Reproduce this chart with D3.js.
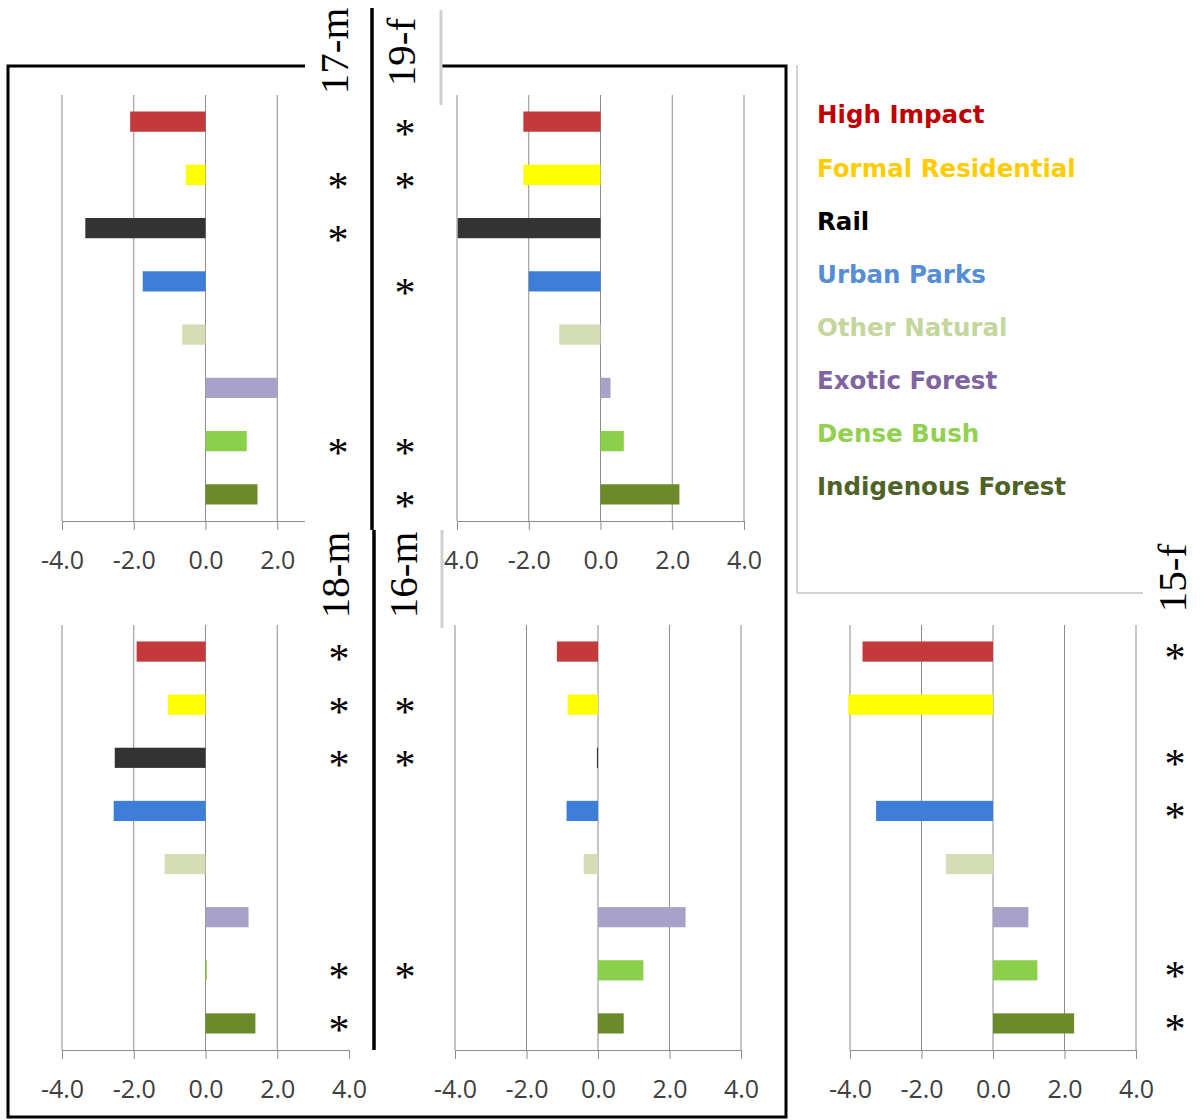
<!DOCTYPE html>
<html><head><meta charset="utf-8">
<script src="https://cdn.jsdelivr.net/npm/d3@7"></script>
<style>body{margin:0;background:#fff} svg{display:block}</style>
</head><body>
<svg id="chart" width="1203" height="1120"></svg>
<script>
// ---- data ----
const categories = ["High Impact","Formal Residential","Rail","Urban Parks","Other Natural","Exotic Forest","Dense Bush","Indigenous Forest"];
const legendColors = ["#c00000","#ffcc00","#000000","#558ed5","#c3d69b","#8064a2","#92d050","#4f6228"];
const barColors = ["#c43a3a","#ffff00","#333333","#3d7fd8","#d5ddb6","#a8a2c8","#8bd04a","#6b8b2a"];
const groupNames = ["17-m","19-f","18-m","16-m","15-f"];
const v17m = [-2.10, -0.55, -3.35, -1.75, -0.65, 2.00, 1.15, 1.45];
const v19f = [-2.15, -2.15, -3.98, -2.00, -1.15, 0.28, 0.65, 2.20];
const v18m = [-1.92, -1.05, -2.53, -2.56, -1.14, 1.20, 0.04, 1.39];
const v16m = [-1.15, -0.85, -0.03, -0.88, -0.40, 2.45, 1.27, 0.72];
const v15f = [-3.65, -4.05, 0.00, -3.27, -1.32, 0.99, 1.24, 2.27];
const sig17m = [0,1,1,0,0,0,1,0];
const sig19f = [1,1,0,1,0,0,1,1];
const sig18m = [1,1,1,0,0,0,1,1];
const sig16m = [0,1,1,0,0,0,1,0];
const sig15f = [1,0,1,1,0,0,1,1];
const tickValues = [-4,-2,0,2,4];
const tickLabels = ["-4.0","-2.0","0.0","2.0","4.0"];

// ---- drawing ----
const svg = d3.select("#chart");
svg.append("rect").attr("width",1203).attr("height",1120).attr("fill","#fff");

const panels = [
  {values:v17m, xr:[62,349],  yr:[95,521]},
  {values:v19f, xr:[457,744], yr:[95,521]},
  {values:v18m, xr:[62,349],  yr:[625,1050]},
  {values:v16m, xr:[455,741], yr:[625,1050]},
  {values:v15f, xr:[850,1136],yr:[625,1050]}
];
const bandScales = [];
panels.forEach(p => {
  const x = d3.scaleLinear().domain([-4,4]).range(p.xr);
  const y = d3.scaleBand().domain(categories).range(p.yr).paddingInner(0.62).paddingOuter(0.31);
  bandScales.push(y);
  const g = svg.append("g");
  g.selectAll("line.grid").data(tickValues).join("line")
    .attr("x1", d => x(d)).attr("x2", d => x(d))
    .attr("y1", p.yr[0]).attr("y2", p.yr[1])
    .attr("stroke", "#8c8c8c").attr("stroke-width", 1);
  const ax = g.append("g").attr("transform", `translate(0,${p.yr[1]})`)
    .call(d3.axisBottom(x).tickValues(tickValues)
      .tickFormat(d => tickLabels[tickValues.indexOf(d)])
      .tickSizeInner(9).tickSizeOuter(0).tickPadding(21));
  ax.select(".domain").attr("stroke","#8c8c8c");
  ax.selectAll(".tick line").attr("stroke","#8c8c8c");
  ax.selectAll("text").attr("font-family","'Open Sans', sans-serif")
    .attr("font-size", 25).attr("fill","#404040");
  g.selectAll("rect.bar").data(p.values).join("rect")
    .attr("x", d => x(Math.min(0,d)))
    .attr("width", d => Math.abs(x(d) - x(0)))
    .attr("y", (d,i) => y(categories[i]))
    .attr("height", y.bandwidth())
    .attr("fill", (d,i) => barColors[i]);
});

// outer frame
svg.append("rect").attr("x",8).attr("y",66).attr("width",778).attr("height",1051)
  .attr("fill","none").attr("stroke","#000").attr("stroke-width",3);

// white cut-outs of the composite
svg.append("rect").attr("x",305).attr("y",0).attr("width",67).attr("height",1050).attr("fill","#fff");
svg.append("rect").attr("x",373).attr("y",0).attr("width",69).attr("height",628).attr("fill","#fff");

// separator lines
svg.append("line").attr("x1",372).attr("x2",372).attr("y1",8).attr("y2",530).attr("stroke","#000").attr("stroke-width",3.5);
svg.append("line").attr("x1",374).attr("x2",374).attr("y1",530).attr("y2",1050).attr("stroke","#000").attr("stroke-width",3.5);
svg.append("line").attr("x1",441).attr("x2",441).attr("y1",10).attr("y2",105).attr("stroke","#d0d0d0").attr("stroke-width",3);
svg.append("line").attr("x1",442).attr("x2",442).attr("y1",530).attr("y2",628).attr("stroke","#d0d0d0").attr("stroke-width",3);

// legend box
svg.append("line").attr("x1",797).attr("x2",797).attr("y1",65).attr("y2",593).attr("stroke","#c4c4c4").attr("stroke-width",1.5);
svg.append("line").attr("x1",797).attr("x2",1143).attr("y1",593).attr("y2",593).attr("stroke","#c4c4c4").attr("stroke-width",1.5);
const legendY = d3.scaleBand().domain(categories).range([88,513]);
svg.selectAll("text.leg").data(categories).join("text")
  .attr("x", 817).attr("y", d => legendY(d) + legendY.bandwidth()/2)
  .attr("dy","0.36em")
  .attr("font-family","'DejaVu Sans', Verdana, sans-serif").attr("font-weight","bold")
  .attr("font-size",24.5).attr("fill",(d,i) => legendColors[i]).text(d => d);

// group labels (rotated)
const labelPos = [[348,51],[415,52],[349,575],[417,575],[1186,578]];
groupNames.forEach((n,i) => {
  svg.append("text").attr("transform",`translate(${labelPos[i][0]},${labelPos[i][1]}) rotate(-90)`)
    .attr("text-anchor","middle").attr("font-family","'Liberation Serif', 'Times New Roman', serif")
    .attr("font-size",41).attr("fill","#000").text(n);
});

// significance asterisks
const sigGroups = [
  {sig:sig17m, x:338, band:bandScales[0], off:6},
  {sig:sig19f, x:405, band:bandScales[0], off:6},
  {sig:sig18m, x:339, band:bandScales[2], off:1},
  {sig:sig16m, x:405, band:bandScales[2], off:1},
  {sig:sig15f, x:1175, band:bandScales[4], off:0}
];
sigGroups.forEach(s => {
  svg.append("g").selectAll("text").data(s.sig.map((v,i)=>({v,c:categories[i]})).filter(d=>d.v))
    .join("text")
    .attr("x", s.x).attr("y", d => s.band(d.c) + s.band.bandwidth()/2 + s.off + 20)
    .attr("text-anchor","middle").attr("font-family","'Liberation Serif', 'Times New Roman', serif")
    .attr("font-size",42).attr("fill","#000").text("*");
});
</script>
</body></html>
